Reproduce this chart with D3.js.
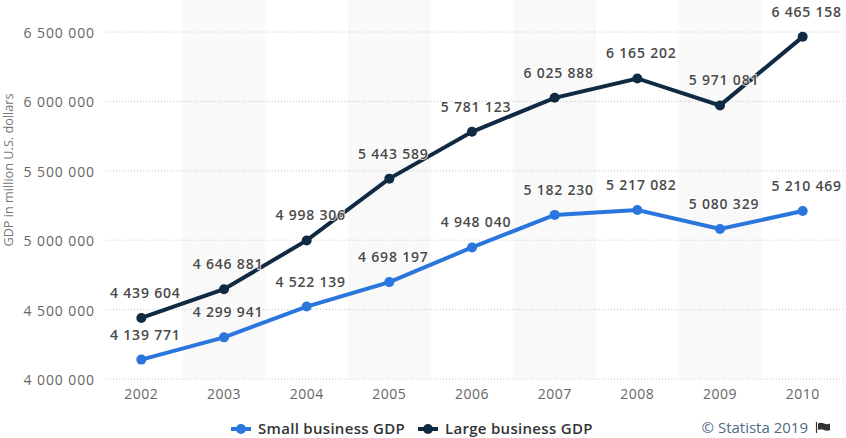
<!DOCTYPE html>
<html>
<head>
<meta charset="utf-8">
<script src="https://cdnjs.cloudflare.com/ajax/libs/d3/7.8.5/d3.min.js"></script>
<style>
body { margin: 0; background: #fff; }
text { font-family: "Open Sans", sans-serif; }
</style>
</head>
<body>
<script>
var years = [2002, 2003, 2004, 2005, 2006, 2007, 2008, 2009, 2010];
var smallGdp = [4139771, 4299941, 4522139, 4698197, 4948040, 5182230, 5217082, 5080329, 5210469];
var largeGdp = [4439604, 4646881, 4998306, 5443589, 5781123, 6025888, 6165202, 5971081, 6465158];
var yTicks = [4000000, 4500000, 5000000, 5500000, 6000000, 6500000];
var seriesNames = ["Small business GDP", "Large business GDP"];
var seriesColors = ["#2a76dd", "#0f2a42"];

var WIDTH = 846, HEIGHT = 438;
var fmt = function (v) { return String(v).replace(/\B(?=(\d{3})+$)/g, " "); };

var svg = d3.select("body").append("svg")
    .attr("width", WIDTH)
    .attr("height", HEIGHT)
    .style("display", "block");

var x = d3.scaleBand().domain(years).range([100, 844]);
var y = d3.scaleLinear().domain([4000000, 6500000]).range([379, 32]);
var xc = function (d) { return x(d) + x.bandwidth() / 2; };

// alternating column shading
svg.selectAll("rect.band")
    .data(years.filter(function (d, i) { return i % 2 === 1; }))
    .enter().append("rect")
    .attr("class", "band")
    .attr("x", function (d) { return x(d); })
    .attr("y", 0)
    .attr("width", x.bandwidth())
    .attr("height", 379)
    .attr("fill", "#f9f9f9");

// gridlines
svg.selectAll("line.grid")
    .data(yTicks)
    .enter().append("line")
    .attr("class", "grid")
    .attr("x1", 107).attr("x2", 844)
    .attr("y1", function (d) { return y(d); })
    .attr("y2", function (d) { return y(d); })
    .attr("stroke", "#c8c8c8")
    .attr("stroke-dasharray", "1,2");

// axes
var yAxis = svg.append("g")
    .attr("transform", "translate(100,1)")
    .call(d3.axisLeft(y).tickValues(yTicks).tickFormat(fmt).tickSize(0).tickPadding(5));
yAxis.select(".domain").remove();
yAxis.selectAll("text")
    .attr("font-size", 14).attr("letter-spacing", 0.9).attr("fill", "#666")
    .style("font-family", '"Open Sans", sans-serif');

var xAxis = svg.append("g")
    .attr("transform", "translate(0,379)")
    .call(d3.axisBottom(x).tickFormat(d3.format("d")).tickSize(0).tickPadding(10));
xAxis.select(".domain").remove();
xAxis.selectAll("text")
    .attr("font-size", 14).attr("letter-spacing", 0.5).attr("fill", "#666")
    .style("font-family", '"Open Sans", sans-serif');

svg.append("text")
    .attr("transform", "translate(13,170) rotate(-90)")
    .attr("text-anchor", "middle")
    .attr("font-size", 12.7)
    .attr("fill", "#777")
    .text("GDP in million U.S. dollars");

// lines, points, value labels
var line = d3.line()
    .x(function (d, i) { return xc(years[i]); })
    .y(function (d) { return y(d); });

[smallGdp, largeGdp].forEach(function (values, s) {
    svg.append("path")
        .datum(values)
        .attr("d", line)
        .attr("fill", "none")
        .attr("stroke", seriesColors[s])
        .attr("stroke-width", 4);
    svg.selectAll("circle.s" + s)
        .data(values)
        .enter().append("circle")
        .attr("class", "s" + s)
        .attr("cx", function (d, i) { return xc(years[i]); })
        .attr("cy", function (d) { return y(d); })
        .attr("r", 5)
        .attr("fill", seriesColors[s]);
});

[smallGdp, largeGdp].forEach(function (values, s) {
    svg.selectAll("text.v" + s)
        .data(values)
        .enter().append("text")
        .attr("class", "v" + s)
        .attr("x", function (d, i) { return xc(years[i]) + 4; })
        .attr("y", function (d) { return y(d) - 20; })
        .attr("text-anchor", "middle")
        .attr("font-size", 14)
        .attr("font-weight", 600)
        .attr("letter-spacing", 0.8)
        .attr("fill", "#4a4a4a")
        .attr("stroke", "#fff")
        .attr("stroke-width", 2)
        .attr("stroke-opacity", 0.8)
        .attr("paint-order", "stroke")
        .text(fmt);
});

// legend
var legendX = [231, 418];
seriesNames.forEach(function (name, i) {
    var g = svg.append("g").attr("transform", "translate(" + legendX[i] + ",429)");
    g.append("line").attr("x1", 0).attr("x2", 20).attr("stroke", seriesColors[i]).attr("stroke-width", 4);
    g.append("circle").attr("cx", 10).attr("r", 5).attr("fill", seriesColors[i]);
    g.append("text")
        .attr("x", 27).attr("y", 4.5)
        .attr("font-size", 15).attr("font-weight", 600).attr("letter-spacing", 0.3).attr("fill", "#333")
        .text(name);
});

// credit
svg.append("text")
    .attr("x", 808).attr("y", 433)
    .attr("text-anchor", "end")
    .attr("font-size", 15)
    .attr("fill", "#4d6a8a")
    .text("\u00a9 Statista 2019");
var flag = svg.append("g").attr("transform", "translate(816,422)");
flag.append("line").attr("x1", 0.5).attr("x2", 0.5).attr("y1", 0).attr("y2", 11).attr("stroke", "#333").attr("stroke-width", 1.2);
flag.append("path").attr("d", "M2 1.5 Q5 0 8 1.5 T14 1.5 V8 Q11 9.5 8 8 T2 8 Z").attr("fill", "#333");
</script>
</body>
</html>
